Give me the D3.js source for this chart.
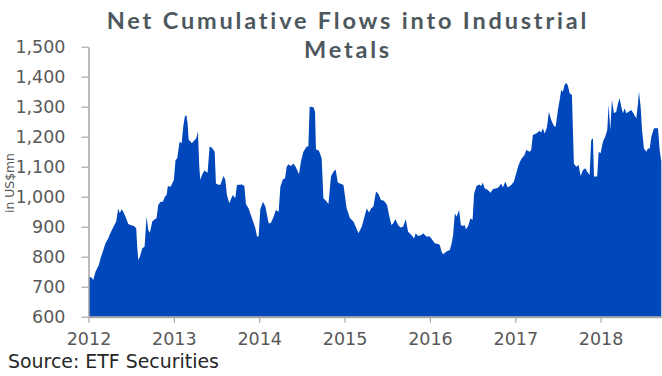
<!DOCTYPE html>
<html>
<head>
<meta charset="utf-8">
<script src="https://cdn.jsdelivr.net/npm/d3@7"></script>
<style>
  html, body { margin: 0; padding: 0; background: #fff; }
  svg { display: block; }
</style>
</head>
<body>
<svg id="chart" width="662" height="376"></svg>
<script>
// Net cumulative flows (US$ mn) by decimal year
const years = [
  2012.004, 2012.035, 2012.055, 2012.082, 2012.121, 2012.141, 2012.168, 2012.199, 2012.231, 2012.258,
  2012.297, 2012.325, 2012.348, 2012.367, 2012.387, 2012.407, 2012.434, 2012.466, 2012.492, 2012.531,
  2012.559, 2012.571, 2012.583, 2012.602, 2012.630, 2012.657, 2012.680, 2012.700, 2012.719, 2012.747,
  2012.777, 2012.797, 2012.817, 2012.844, 2012.871, 2012.895, 2012.915, 2012.930, 2012.962, 2013.000,
  2013.020, 2013.040, 2013.067, 2013.091, 2013.110, 2013.129, 2013.146, 2013.161, 2013.173, 2013.211,
  2013.239, 2013.263, 2013.282, 2013.298, 2013.310, 2013.329, 2013.357, 2013.395, 2013.419, 2013.446,
  2013.478, 2013.493, 2013.516, 2013.544, 2013.583, 2013.603, 2013.622, 2013.650, 2013.673, 2013.692,
  2013.720, 2013.739, 2013.798, 2013.826, 2013.845, 2013.876, 2013.915, 2013.955, 2013.974, 2013.993,
  2014.013, 2014.044, 2014.072, 2014.111, 2014.138, 2014.169, 2014.196, 2014.228, 2014.248, 2014.278,
  2014.302, 2014.322, 2014.342, 2014.372, 2014.400, 2014.427, 2014.466, 2014.489, 2014.518, 2014.556,
  2014.576, 2014.591, 2014.635, 2014.654, 2014.665, 2014.700, 2014.732, 2014.752, 2014.779, 2014.811,
  2014.841, 2014.869, 2014.896, 2014.920, 2014.947, 2014.987, 2015.025, 2015.064, 2015.104, 2015.131,
  2015.163, 2015.201, 2015.233, 2015.260, 2015.287, 2015.310, 2015.338, 2015.369, 2015.397, 2015.428,
  2015.444, 2015.471, 2015.498, 2015.521, 2015.549, 2015.568, 2015.596, 2015.627, 2015.655, 2015.686,
  2015.717, 2015.744, 2015.784, 2015.814, 2015.834, 2015.861, 2015.901, 2015.920, 2015.960, 2015.999,
  2016.030, 2016.057, 2016.096, 2016.116, 2016.136, 2016.155, 2016.194, 2016.233, 2016.253, 2016.272,
  2016.292, 2016.312, 2016.342, 2016.362, 2016.389, 2016.409, 2016.421, 2016.448, 2016.476, 2016.500,
  2016.518, 2016.546, 2016.577, 2016.600, 2016.620, 2016.640, 2016.679, 2016.710, 2016.737, 2016.776,
  2016.804, 2016.835, 2016.855, 2016.882, 2016.913, 2016.952, 2016.984, 2017.011, 2017.039, 2017.069,
  2017.109, 2017.128, 2017.168, 2017.187, 2017.206, 2017.245, 2017.285, 2017.304, 2017.324, 2017.344,
  2017.371, 2017.394, 2017.421, 2017.453, 2017.473, 2017.500, 2017.520, 2017.538, 2017.558, 2017.578,
  2017.597, 2017.617, 2017.637, 2017.664, 2017.687, 2017.714, 2017.742, 2017.766, 2017.793, 2017.820,
  2017.843, 2017.871, 2017.890, 2017.910, 2017.922, 2017.960, 2017.977, 2018.000, 2018.027, 2018.054,
  2018.078, 2018.094, 2018.113, 2018.133, 2018.156, 2018.183, 2018.203, 2018.223, 2018.242, 2018.262,
  2018.282, 2018.300, 2018.329, 2018.359, 2018.391, 2018.418, 2018.438, 2018.449, 2018.469, 2018.485,
  2018.508, 2018.535, 2018.555, 2018.575, 2018.594, 2018.625, 2018.652, 2018.672, 2018.692, 2018.711
];
const flows = [
  733, 731, 722, 750, 772, 795, 817, 845, 861, 880,
  902, 917, 961, 945, 958, 950, 933, 909, 906, 902,
  895, 833, 789, 800, 828, 833, 933, 889, 880, 917,
  925, 928, 972, 983, 983, 1000, 1006, 1036, 1033, 1056,
  1122, 1128, 1183, 1178, 1233, 1267, 1272, 1245, 1191, 1178,
  1187, 1195, 1217, 1100, 1056, 1072, 1087, 1080, 1167, 1163,
  1150, 1044, 1041, 1039, 1069, 1056, 1006, 978, 995, 1006,
  995, 1039, 1041, 1036, 975, 961, 928, 895, 867, 867,
  958, 983, 967, 911, 913, 933, 956, 950, 1033, 1058,
  1061, 1100, 1108, 1102, 1111, 1100, 1075, 1117, 1150, 1167,
  1167, 1300, 1298, 1283, 1158, 1153, 1128, 995, 987, 976,
  1067, 1083, 1091, 1047, 1044, 1039, 961, 928, 917, 900,
  878, 900, 933, 961, 947, 961, 967, 1017, 1009, 987,
  989, 983, 972, 939, 906, 911, 925, 906, 897, 900,
  925, 883, 872, 861, 878, 869, 872, 878, 867, 867,
  856, 845, 842, 839, 817, 808, 817, 822, 842, 872,
  945, 933, 956, 906, 902, 906, 891, 902, 928, 922,
  1011, 1036, 1041, 1036, 1047, 1028, 1022, 1013, 1025, 1028,
  1031, 1044, 1031, 1050, 1031, 1039, 1050, 1078, 1106, 1125,
  1139, 1156, 1150, 1156, 1206, 1211, 1219, 1214, 1228, 1211,
  1231, 1283, 1256, 1236, 1233, 1289, 1322, 1356, 1350, 1372,
  1380, 1370, 1345, 1339, 1111, 1100, 1106, 1069, 1089, 1095,
  1083, 1072, 1189, 1195, 1067, 1067, 1150, 1145, 1183, 1200,
  1222, 1306, 1222, 1322, 1278, 1283, 1311, 1328, 1300, 1278,
  1295, 1278, 1283, 1289, 1275, 1261, 1311, 1350, 1300, 1222,
  1161, 1150, 1161, 1161, 1200, 1228, 1228, 1228, 1156, 1117
];
const yearTicks = [2012, 2013, 2014, 2015, 2016, 2017, 2018];
const valueTicks = [600, 700, 800, 900, 1000, 1100, 1200, 1300, 1400, 1500];
const titleLines = ["Net Cumulative Flows into Industrial", "Metals"];
const yAxisTitle = "in US$mn";
const sourceNote = "Source: ETF Securities";

const svg = d3.select("#chart");
const FONT = "'DejaVu Sans', sans-serif";
const TITLE_FONT = "Lato, 'DejaVu Sans', sans-serif";
const AXIS_GREY = "#a6a6a6";
const LABEL_GREY = "#595959";

const plot = { left: 88.5, right: 661.3, top: 46.7, bottom: 316.7 };

const x = d3.scaleLinear()
  .domain([2012, years[years.length - 1]])
  .range([plot.left, plot.right]);
const y = d3.scaleLinear()
  .domain([600, 1500])
  .range([plot.bottom, plot.top]);

const series = years.map((t, i) => ({ t, v: flows[i] }));

// Filled area down to the 600 baseline
const area = d3.area()
  .x(d => x(d.t))
  .y0(y(600))
  .y1(d => y(d.v));

svg.append("path")
  .datum(series)
  .attr("d", area)
  .attr("fill", "#0047bb");

// Y axis
const yAxis = svg.append("g")
  .attr("transform", `translate(${plot.left},0)`)
  .call(d3.axisLeft(y)
    .tickValues(valueTicks)
    .tickFormat(d3.format(","))
    .tickSize(7)
    .tickSizeOuter(0)
    .tickPadding(16));
yAxis.select(".domain").attr("stroke", AXIS_GREY).attr("stroke-width", 1.5);
yAxis.selectAll(".tick line").attr("stroke", AXIS_GREY).attr("stroke-width", 1.2);
yAxis.selectAll(".tick text")
  .attr("fill", LABEL_GREY)
  .style("font-family", FONT)
  .style("font-size", "17.5px");

// X axis
const xAxis = svg.append("g")
  .attr("transform", `translate(0,${plot.bottom})`)
  .call(d3.axisBottom(x)
    .tickValues(yearTicks)
    .tickFormat(d3.format("d"))
    .tickSize(6)
    .tickSizeOuter(0)
    .tickPadding(10));
xAxis.select(".domain").attr("stroke", AXIS_GREY).attr("stroke-width", 2);
xAxis.selectAll(".tick line").attr("stroke", AXIS_GREY).attr("stroke-width", 1.2);
xAxis.selectAll(".tick text")
  .attr("fill", LABEL_GREY)
  .style("font-family", FONT)
  .style("font-size", "17.5px");

// Rotated unit label sits on a white box over the tick labels
const unit = svg.append("g").attr("transform", "translate(10,183) rotate(-90)");
unit.append("rect")
  .attr("x", -31).attr("y", -7).attr("width", 62).attr("height", 14.5)
  .attr("fill", "#fff");
const unitText = unit.append("text")
  .attr("text-anchor", "middle")
  .attr("dy", "0.35em")
  .attr("fill", LABEL_GREY)
  .style("font-family", FONT)
  .style("font-size", "13px")
  .text(yAxisTitle);
const unitLen = unitText.node().getComputedTextLength();
unitText.style("font-size", (13 * 60 / unitLen) + "px");

// Two-line title; slight letter spacing brings the first line to its width
const TITLE_SIZE = 23.5;
const title = svg.append("g").attr("fill", "#4d585e")
  .style("font-family", TITLE_FONT).style("font-weight", "bold")
  .style("font-size", TITLE_SIZE + "px");
const t1 = title.append("text")
  .attr("x", 348).attr("y", 29)
  .attr("text-anchor", "middle")
  .text(titleLines[0]);
const natural = t1.node().getComputedTextLength();
const spacing = Math.max(0, (480 - natural) / (titleLines[0].length - 1));
t1.style("letter-spacing", spacing + "px");
title.append("text")
  .attr("x", 348).attr("y", 57.5)
  .attr("text-anchor", "middle")
  .style("letter-spacing", spacing + "px")
  .text(titleLines[1]);

// Source note
const src = svg.append("text")
  .attr("x", 8).attr("y", 368)
  .attr("fill", "#262626")
  .style("font-family", FONT)
  .style("font-size", "16px")
  .text(sourceNote);
const srcLen = src.node().getComputedTextLength();
src.style("font-size", (16 * 211 / srcLen) + "px");
</script>
</body>
</html>
